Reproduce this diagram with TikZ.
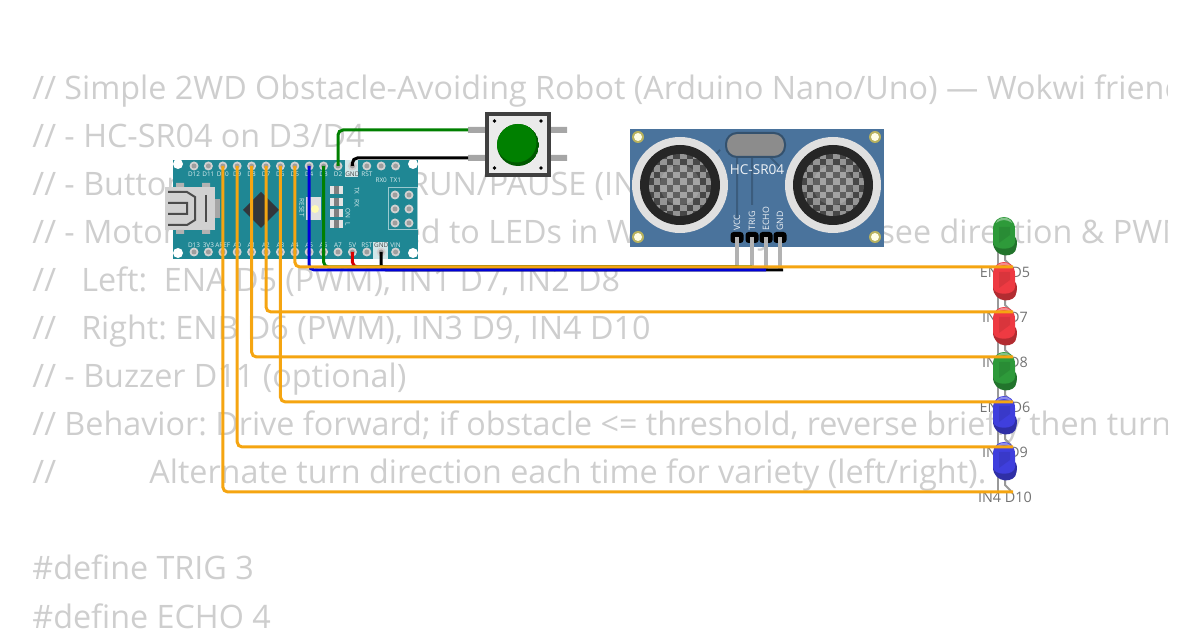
\documentclass[tikz,border=0pt]{standalone}
\usepackage{fontspec}
\setmainfont{Open Sans}
\definecolor{codegray}{HTML}{CECECE}
\definecolor{nanoteal}{HTML}{1F8794}
\definecolor{sonarblue}{HTML}{4A739C}
\definecolor{wireorange}{HTML}{F5A511}
\definecolor{ledgreen}{HTML}{2E9A3A}
\definecolor{ledred}{HTML}{EE3A42}
\definecolor{ledblue}{HTML}{3F3FDD}
\tikzset{
  wire/.style={line width=1.5pt, rounded corners=2.5pt},
  codeline/.style={anchor=base west, inner sep=0pt, text=codegray, font=\fontsize{16.15}{18}\selectfont\frenchspacing},
  nanotxt/.style={inner sep=0pt, text=white!85!nanoteal, font=\fontsize{3.2}{4}\selectfont},
  gndtxt/.style={inner sep=0pt, text=black!70, font=\fontsize{3.2}{4}\selectfont},
  sonartxt/.style={inner sep=0pt, text=white!90!sonarblue, font=\fontsize{4.4}{5}\selectfont},
  ledtxt/.style={inner sep=0pt, text=black!55, font=\fontsize{7.2}{8}\selectfont},
  legline/.style={draw=black!40, line width=1pt},
  pics/sonarhead/.style={code={
    \fill[black!12] (0,0) circle (48);
    \fill[black!85] (0,0) circle (40);
    \begin{scope}
      \clip (0,0) circle (31);
      \fill[black!72] (-32,-32) rectangle (32,32);
      \foreach \i in {-5,...,4} \foreach \j in {-5,...,4} {
        \pgfmathparse{int(mod(\i+\j+10,2))}
        \ifnum\pgfmathresult=1 \fill[black!42] (\i*6.6,\j*6.6) rectangle ++(6.6,6.6); \fi
      }
      \fill[white, opacity=.14] (0,0) circle (20);
    \end{scope}
  }},
  pics/ledbulb/.style n args={3}{code={
    \draw[legline] (-6,30) -- (-6,49);
    \draw[legline] (1,30) -- (1,43) -- (7,49);
    \fill[#2] (-11,25) .. controls (-11,42) and (12,42) .. (12.5,30) .. controls (13.5,26) and (13,22) .. (11,20) -- cycle;
    \fill[#1] (-11,12) .. controls (-11,-4) and (11,-4) .. (11,12) -- (11,25) .. controls (11,34) and (-11,34) .. (-11,25) -- cycle;
    \fill[#3] (-8,6) .. controls (-6,-1) and (6,-1) .. (8,6) .. controls (2,2) and (-2,2) .. (-8,6) -- cycle;
    \fill[#2, opacity=.35] (-5,10) -- (6,10) -- (6,18) -- (-5,26) -- cycle;
  }}
}
\begin{document}
\begin{tikzpicture}[x=.5pt, y=-.5pt]
  \useasboundingbox (0,0) rectangle (1200,630);
  % code behind the parts
  \begin{scope}
    \clip (0,0) rectangle (1167,630);
    \node[codeline] (lineA) at (32,100) {// Simple 2WD Obstacle-Avoiding Robot (Arduino Nano/Uno) — Wokwi friendly};
    \node[codeline] (lineB) at (32,148) {// - HC-SR04 on D3/D4};
    \node[codeline] (lineC) at (32,196) {// - Button on D2 toggles RUN/PAUSE (INPUT\_PULLUP)};
    \node[codeline] (lineD) at (32,244) {// - Motors are represented to LEDs in Wokwi so you will see direction \& PWM};
    \node[codeline] (lineE) at (32,292) {//\ \ \ Left:\ \ ENA D5 (PWM), IN1 D7, IN2 D8};
    \node[codeline] (lineF) at (32,340) {//\ \ \ Right: ENB D6 (PWM), IN3 D9, IN4 D10};
    \node[codeline] (lineG) at (32,388) {// - Buzzer D11 (optional)};
    \node[codeline] (lineH) at (32,436) {// Behavior: Drive forward; if obstacle <= threshold, reverse briefly then turn};
    \node[codeline] (lineI) at (32,484) {//};
    \node[codeline] (lineJ) at (149,484) {Alternate turn direction each time for variety (left/right).};
    \node[codeline] (lineK) at (32,580) {\#define TRIG 3};
    \node[codeline] (lineL) at (32,628) {\#define ECHO 4};
  \end{scope}

  % nano board
  \fill[nanoteal] (173,160) rectangle (418,259);
  \fill[white, opacity=.8] (345,160) rectangle (358,177);
  \fill[white, opacity=.8] (373,242) rectangle (388,259);
  \foreach \p in {(178,164),(413,164),(178,253),(413,253)} \fill[white] \p circle (5);
  \foreach \lab [count=\i from 0] in {D12,D11,D10,D9,D8,D7,D6,D5,D4,D3,D2,GND,RST,RX0,TX1} {
    \coordinate (top\lab) at ({194+14.4*\i},166);
    \fill[black!18] (top\lab) circle (4.5);
    \fill[black!38] (top\lab) circle (2.5);
  }
  \foreach \lab [count=\i from 0] in {D13,3V3,AREF,A0,A1,A2,A3,A4,A5,A6,A7,5V,RST,GND,VIN} {
    \coordinate (bot\lab) at ({194+14.4*\i},252);
    \fill[black!18] (bot\lab) circle (4.5);
    \fill[black!38] (bot\lab) circle (2.5);
  }
  \foreach \lab [count=\i from 0] in {D12,D11,D10,D9,D8,D7,D6,D5,D4,D3,D2}
    \node[nanotxt] (toplab\i) at ({194+14.4*\i},174) {\lab};
  \node[gndtxt] (gndtop) at (topGND |- 0,174) {GND};
  \node[nanotxt] (rsttop) at (topRST |- 0,174) {RST};
  \foreach \lab [count=\i from 0] in {D13,3V3,AREF,A0,A1,A2,A3,A4,A5,A6,A7,5V,RST}
    \node[nanotxt] (botlab\i) at ({194+14.4*\i},245) {\lab};
  \node[gndtxt] (gndbot) at (botGND |- 0,245) {GND};
  \node[nanotxt] (vinbot) at (botVIN |- 0,245) {VIN};
  \node[nanotxt] (rxlab) at (topRX0 |- 0,180) {RX0};
  \node[nanotxt] (txlab) at (topTX1 |- 0,180) {TX1};
  % usb, chip, reset, leds, icsp
  \fill[black!18] (165,187) rectangle (215,230);
  \fill[black!30] (176,183) rectangle (184,187) (202,183) rectangle (210,187) (176,230) rectangle (184,234) (202,230) rectangle (210,234);
  \fill[black!35] (215,199) rectangle (220,218);
  \draw[black!70, line width=1pt] (168,192) -- (187,192) -- (195,197) -- (195,220) -- (187,225) -- (168,225) (168,203) -- (187,203) -- (187,214) -- (168,214);
  \draw[black!70, line width=1pt] (206,195) -- (206,222);
  \fill[black!75!red!60!nanoteal] (261,192) -- (279,210) -- (261,228) -- (243,210) -- cycle;
  \fill[black!12] (306,197) rectangle (321,220);
  \fill[white!70!yellow] (315,209) circle (4);
  \node[nanotxt, rotate=-90] (resetlab) at (302,208) {RESET};
  \foreach \y in {190,202,213,224} {
    \fill[black!10] (330,\y-4) rectangle (343,\y+4);
    \fill[black!50] (334,\y-4) rectangle (339,\y+4);
  }
  \node[nanotxt, rotate=-90] (txled) at (357,191) {TX};
  \node[nanotxt, rotate=-90] (rxled) at (357,203) {RX};
  \node[nanotxt, rotate=-90] (onled) at (348,213) {ON};
  \node[nanotxt, rotate=-90] (lled) at (348,224) {L};
  \draw[white!55!nanoteal, line width=.5pt] (388,188) rectangle (417,230);
  \foreach \x in {395,409} \foreach \y in {195,209,223} {
    \fill[black!18] (\x,\y) circle (4.5);
    \fill[black!38] (\x,\y) circle (2.5);
  }

  % push button
  \fill[black!35] (468,127) rectangle (485,133) (468,155) rectangle (485,161) (551,127) rectangle (567,133) (551,155) rectangle (567,161);
  \fill[black!75] (485,112) rectangle (551,177);
  \fill[black!8] (489,116) rectangle (547,173);
  \foreach \p in {(494.5,121),(541,121),(494.5,168),(541,168)} \fill[black] \p circle (1.8);
  \begin{scope}
    \clip (518,145) circle (21);
    \fill[green!35!black] (518,145) circle (21);
    \fill[green!50!black] (516.5,142.5) circle (20);
  \end{scope}
  \coordinate (btnA) at (468,130);
  \coordinate (btnB) at (468,158);

  % ultrasonic sensor
  \fill[sonarblue] (630,129) rectangle (884,247);
  \foreach \p in {(638,137),(875,137),(638,237),(875,237)} {
    \fill[yellow!60!black!80] \p circle (6);
    \fill[white!90!yellow] \p circle (4);
  }
  \draw[sonarblue!80!black, line width=1pt] (720,150) -- (705,165) (737,157) -- (737,218) (752,157) -- (752,205) (770,157) -- (780,167);
  \pic (headL) at (680,185) {sonarhead};
  \pic (headR) at (833,185) {sonarhead};
  \draw[sonarblue!70!black, fill=black!45, line width=1pt, rounded corners=5.5pt] (726,133) rectangle (785,157);
  \node[sonartxt, font=\fontsize{6.8}{8}\selectfont] (sonarname) at (757,170) {HC-SR04};
  \foreach \lab/\x/\nm in {VCC/737/Vcc,TRIG/752/Trig,ECHO/766/Echo,GND/780/Gnd} {
    \node[sonartxt, rotate=90, anchor=west] (lab\nm) at (\x,231) {\lab};
    \fill[black, rounded corners=1.5pt] (\x-6.5,232) rectangle (\x+6.5,243);
    \fill[black!30] (\x-2,237) rectangle (\x+2,270);
  }
  \coordinate (sonarVcc) at (737,267);
  \coordinate (sonarTrig) at (752,267);
  \coordinate (sonarEcho) at (766,270);
  \coordinate (sonarGnd) at (783,270);

  % leds, each over the label of the one before
  \foreach \txt/\nm/\ylab in {ENA D5/ledA/272,IN1 D7/ledB/317.5,IN2 D8/ledC/362,ENB D6/ledD/407,IN3 D9/ledE/452,IN4 D10/ledF/497} {
    \node[ledtxt] (\nm txt) at (1005,\ylab) {\txt};
  }
  \foreach \nm/\y/\mycol in {ledA/217/ledgreen,ledB/262/ledred,ledC/307/ledred,ledD/352/ledgreen,ledE/396/ledblue,ledF/442/ledblue} {
    \pic (\nm) at (1004,\y) {ledbulb={\mycol}{\mycol!75!black}{\mycol!60!white}};
  }
  \foreach \nm/\y in {pinA/267,pinB/312,pinC/357,pinD/402,pinE/447,pinF/492}
    \coordinate (\nm) at (1013,\y);

  % wires
  \draw[wire, black] (topGND) |- (btnB);
  \draw[wire, green!50!black] (topD2) |- (btnA);
  \draw[wire, black] (botGND) |- (sonarGnd);
  \draw[wire, red!85!black] (bot5V) |- (sonarVcc);
  \draw[wire, green!50!black] (topD3) |- (sonarTrig);
  \draw[wire, blue!85!black] (topD4) |- (sonarEcho);
  \draw[wire, wireorange] (topD5) |- (pinA);
  \draw[wire, wireorange] (topD7) |- (pinB);
  \draw[wire, wireorange] (topD8) |- (pinC);
  \draw[wire, wireorange] (topD6) |- (pinD);
  \draw[wire, wireorange] (topD9) |- (pinE);
  \draw[wire, wireorange] (topD10) |- (pinF);
\end{tikzpicture}
\end{document}
